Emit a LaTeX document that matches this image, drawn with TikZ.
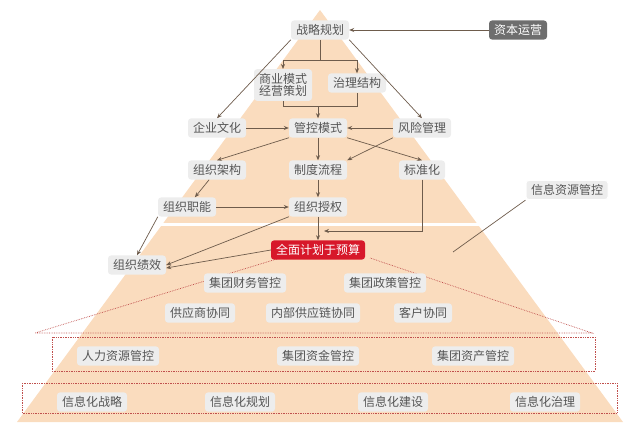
\documentclass[tikz,border=0pt]{standalone}
\usepackage{fontspec}
\setmainfont{Noto Sans CJK SC}
\usetikzlibrary{arrows.meta}
\definecolor{peach}{HTML}{FADCBE}
\definecolor{boxgray}{HTML}{EDEDED}
\definecolor{txtgray}{HTML}{555555}
\definecolor{arrowbrown}{HTML}{6E5C4C}
\definecolor{budgetred}{HTML}{D7182A}
\definecolor{dotred}{HTML}{C0504D}
\tikzset{
  item/.style={rounded corners=3pt, fill=boxgray, text=txtgray, font=\fontsize{12}{13}\selectfont, inner xsep=5pt, inner ysep=4pt},
  flow/.style={draw=arrowbrown, line width=0.7pt, -{Stealth[length=5pt,width=4pt]}},
  link/.style={draw=arrowbrown, line width=0.7pt},
  dotline/.style={draw=dotred, densely dotted, line width=0.7pt}
}
\begin{document}
\begin{tikzpicture}[x=1pt, y=-1pt]
        \useasboundingbox (0,0) rectangle (640,432);
        % pyramid
        \fill[peach] (320,10) -- (17,422) -- (623,422) -- cycle;
        \fill[white] (0,223) rectangle (640,226);

        % dotted frames
        \draw[dotline] (280,258) -- (35,333) -- (592,333) -- (370,258);
        \draw[dotline] (52,337) rectangle (595,371);
        \draw[dotline] (22,383) rectangle (617,413);

        % top part
        \node[item] (1) at (320,30) {战略规划};
        \node[item, fill=txtgray!85, text=white] (2) at (518,30) {资本运营};
        \node[item, align=center, font=\fontsize{12}{12.5}\selectfont] (3) at (283,85) {商业模式\\经营策划};
        \node[item] (4) at (357,83) {治理结构};
        \node[item] (5) at (217,128) {企业文化};
        \node[item] (6) at (318,128) {管控模式};
        \node[item] (7) at (422,128) {风险管理};
        \node[item] (8) at (217,170) {组织架构};
        \node[item] (9) at (318,170) {制度流程};
        \node[item] (10) at (422,170) {标准化};
        \node[item] (11) at (187,207) {组织职能};
        \node[item] (12) at (318,207) {组织授权};
        \node[item, fill=budgetred, text=white] (13) at (318,250) {全面计划于预算};
        \node[item] (14) at (137,265) {组织绩效};
        \node[item, draw=white, line width=1pt] (15) at (567,190) {信息资源管控};
        \coordinate (16) at (453,252);

        % lower part
        \node[item] (17) at (245,283) {集团财务管控};
        \node[item] (18) at (385,283) {集团政策管控};
        \node[item] (19) at (200,313) {供应商协同};
        \node[item] (20) at (313,313) {内部供应链协同};
        \node[item] (21) at (423,313) {客户协同};
        \node[item] (22) at (118,356) {人力资源管控};
        \node[item] (23) at (318,356) {集团资金管控};
        \node[item] (24) at (473,356) {集团资产管控};
        \node[item] (25) at (92,402) {信息化战略};
        \node[item] (26) at (240,402) {信息化规划};
        \node[item] (27) at (393,402) {信息化建设};
        \node[item] (28) at (545,402) {信息化治理};

        % connectors
        \draw[flow] (2) -- (1);
        \draw[link] (1) -- (320,60);
        \draw[flow] (283,60) -- (3);
        \draw[flow] (357,60) -- (4);
        \draw[link] (283,60) -- (357,60);
        \draw[flow] (1.south west) -- (5.north);
        \draw[flow] (1.south east) -- (7.north);
        \draw[link] (3.south) -- (283,106) -- (357,106) -- (4.south);
        \draw[flow] (318,106) -- (6);
        \draw[flow] (5) -- (6);
        \draw[flow] (7) -- (6);
        \draw[flow] (6.south west) -- (8.north);
        \draw[flow] (6) -- (9);
        \draw[flow] (6.south east) -- (10.north);
        \draw[flow] (7.south west) -- (9.north east);
        \draw[flow] (8) -- (11);
        \draw[flow] (11) -- (12);
        \draw[flow] (9) -- (12);
        \draw[flow] (12) -- (13);
        \draw[flow] (10.south) |- (324,231);
        \draw[flow] (11.south west) -- (14.north);
        \draw[flow] (12.south west) -- (14.east);
        \draw[flow] (13.west) -- ([yshift=-3pt]14.east);
        \draw[link] (15.south west) -- (16);
    \end{tikzpicture}
\end{document}
